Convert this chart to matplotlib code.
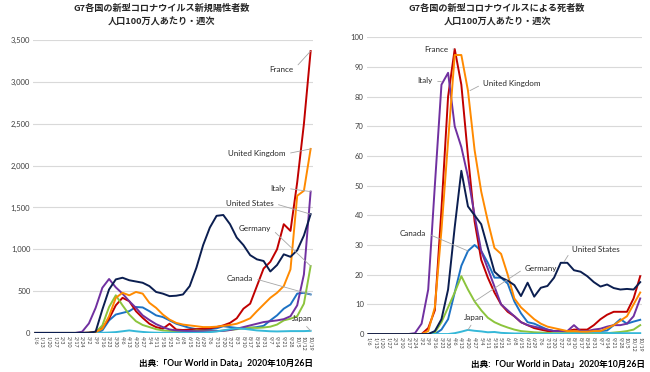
import matplotlib
matplotlib.use('Agg')
import matplotlib.pyplot as plt

plt.rcParams['font.family'] = ['Lato', 'Noto Sans CJK JP', 'DejaVu Sans']

weeks = ['1/6', '1/13', '1/20', '1/27', '2/3', '2/10', '2/17', '2/24', '3/2', '3/9',
         '3/16', '3/23', '3/30', '4/6', '4/13', '4/20', '4/27', '5/4', '5/11', '5/18',
         '5/25', '6/1', '6/8', '6/15', '6/22', '6/29', '7/6', '7/13', '7/20', '7/27',
         '8/3', '8/10', '8/17', '8/24', '8/31', '9/7', '9/14', '9/21', '9/28', '10/5',
         '10/12', '10/19']

# weekly new cases per million
canada_cases = [0, 0, 0, 0, 0, 0, 0, 0, 0, 2, 30, 150, 220, 240, 260, 310, 305, 260, 210, 190,
                150, 110, 85, 60, 45, 40, 45, 55, 80, 70, 60, 55, 60, 70, 85, 150, 210, 290, 340, 470,
                480, 460]
france_cases = [0, 0, 0, 0, 0, 0, 0, 0, 3, 15, 60, 170, 330, 420, 380, 260, 180, 110, 70, 50,
                110, 40, 35, 40, 45, 50, 55, 70, 90, 120, 175, 290, 350, 560, 770, 850, 1000, 1300, 1220, 1800,
                2500, 3370]
germany_cases = [0, 0, 0, 0, 0, 0, 0, 0, 1, 10, 90, 310, 450, 330, 220, 140, 95, 70, 45, 30,
                 25, 20, 18, 20, 30, 25, 20, 22, 28, 35, 45, 55, 65, 60, 65, 75, 100, 150, 170, 200,
                 350, 800]
italy_cases = [0, 0, 0, 0, 0, 0, 0, 15, 114, 300, 540, 645, 545, 470, 380, 300, 210, 155, 105, 70,
               42, 30, 25, 22, 20, 20, 20, 22, 25, 35, 50, 70, 90, 110, 130, 140, 150, 165, 200, 330,
               700, 1690]
japan_cases = [0, 0, 0, 0, 0, 0, 0, 0, 0, 1, 2, 5, 10, 20, 30, 20, 12, 6, 3, 2,
               2, 2, 2, 2, 3, 5, 10, 18, 30, 45, 55, 50, 40, 30, 25, 20, 18, 20, 22, 22,
               22, 25]
uk_cases = [0, 0, 0, 0, 0, 0, 0, 0, 1, 10, 50, 200, 420, 480, 450, 490, 470, 360, 300, 220,
            160, 120, 100, 90, 80, 70, 70, 75, 85, 95, 110, 140, 175, 260, 340, 420, 480, 560, 760, 1640,
            1700, 2200]
us_cases = [0, 0, 0, 0, 0, 0, 0, 1, 3, 15, 280, 520, 640, 660, 630, 615, 600, 560, 490, 470,
            440, 445, 460, 560, 780, 1050, 1260, 1400, 1410, 1300, 1140, 1050, 930, 880, 860, 735, 812, 940, 910, 988,
            1165, 1420]

# weekly deaths per million
canada_deaths = [0, 0, 0, 0, 0, 0, 0, 0, 0, 0, 0, 1.5, 5, 14, 23, 28, 30, 28, 24, 19,
                 19, 17, 11, 7, 4, 3.5, 2.5, 1.5, 1, 1, 0.8, 0.8, 0.8, 0.8, 0.8, 1, 1.2, 3, 5, 3.5,
                 4.2, 4.8]
france_deaths = [0, 0, 0, 0, 0, 0, 0, 0, 0, 2, 8, 42, 80, 96, 84, 60, 38, 25, 19, 14,
                 10, 7.5, 6, 4, 3, 2, 1.5, 1, 1, 1, 1, 1.5, 1.5, 1.5, 3, 5, 6.5, 7.5, 7.5, 7.5,
                 12, 19.5]
germany_deaths = [0, 0, 0, 0, 0, 0, 0, 0, 0, 0, 0.5, 4, 9, 14, 19.5, 15, 11, 8, 5.5, 4,
                  3, 2.2, 1.5, 1, 0.8, 0.6, 0.5, 0.4, 0.3, 0.3, 0.3, 0.3, 0.3, 0.3, 0.3, 0.3, 0.3, 0.5, 0.7, 1,
                  1.5, 3]
italy_deaths = [0, 0, 0, 0, 0, 0, 0, 0.3, 3.5, 15, 50, 84, 88, 70, 63, 53, 40, 28, 22, 16,
                10, 8, 6, 4, 3, 2.5, 2, 1.5, 1, 1, 1, 3, 1, 1, 1.5, 1.8, 2.5, 3, 3, 3.5,
                6, 12]
japan_deaths = [0, 0, 0, 0, 0, 0, 0, 0, 0, 0, 0, 0, 0, 0.3, 0.8, 1.4, 1.1, 0.9, 0.6, 0.7,
                0.4, 0.3, 0.2, 0.2, 0.1, 0.1, 0.1, 0.1, 0.1, 0.1, 0.1, 0.2, 0.4, 0.5, 0.5, 0.4, 0.4, 0.3, 0.3, 0.3,
                0.3, 0.3]
uk_deaths = [0, 0, 0, 0, 0, 0, 0, 0, 0, 1, 9, 35, 65, 94, 94, 82, 62, 48, 38, 29,
             27, 20, 12, 9, 7, 5, 3.5, 2.5, 2, 1.5, 1, 1, 0.8, 0.8, 1, 1, 2, 3, 4.5, 6,
             10, 14]
us_deaths = [0, 0, 0, 0, 0, 0, 0, 0, 0, 0, 1, 5, 15, 36, 55, 43, 40, 37, 29, 21,
             19, 18, 16.5, 12.8, 17.3, 12.6, 15.6, 16.2, 19, 24, 24, 21.5, 21, 19.5, 17.5, 16, 16.7, 15.5, 15, 15.2,
             15, 17.5]

colors = {'Canada': '#1C72C4', 'France': '#C00000', 'Germany': '#8CC43C', 'Italy': '#7030A0',
          'Japan': '#35B8D8', 'United Kingdom': '#FF8A00', 'United States': '#0B1E50'}

cases = {'Canada': canada_cases, 'France': france_cases, 'Germany': germany_cases,
         'Italy': italy_cases, 'Japan': japan_cases, 'United Kingdom': uk_cases,
         'United States': us_cases}
deaths = {'Canada': canada_deaths, 'France': france_deaths, 'Germany': germany_deaths,
          'Italy': italy_deaths, 'Japan': japan_deaths, 'United Kingdom': uk_deaths,
          'United States': us_deaths}

fig = plt.figure(figsize=(6.5, 3.72), dpi=100)
ax1 = fig.add_axes([0.051, 0.105, 0.43, 0.787])
ax2 = fig.add_axes([0.564, 0.102, 0.424, 0.798])

x = list(range(len(weeks)))


def style(ax, ymax, step, fmt):
    ax.set_xlim(-0.3, 41.3)
    ax.set_ylim(0, ymax)
    ax.set_yticks(range(0, ymax + 1, step))
    ax.set_yticklabels([fmt(v) for v in range(0, ymax + 1, step)], fontsize=5.5, color='#404040')
    ax.set_xticks(x)
    ax.set_xticklabels(weeks, rotation=270, fontsize=3.8, color='#404040')
    ax.tick_params(length=0, pad=2)
    ax.grid(axis='y', color='#D9D9D9', lw=0.8)
    ax.set_axisbelow(True)
    for s in ax.spines.values():
        s.set_visible(False)


for name, vals in cases.items():
    ax1.plot(x, vals, color=colors[name], lw=1.4, solid_joinstyle='round')
for name, vals in deaths.items():
    ax2.plot(x, vals, color=colors[name], lw=1.4, solid_joinstyle='round')

style(ax1, 3500, 500, lambda v: f'{v:,}')
style(ax2, 100, 10, lambda v: str(v))

lead = dict(arrowstyle='-', color='#A6A6A6', lw=0.6, shrinkA=1.5, shrinkB=0)


def label(ax, text, xy, xytext, ha):
    rel = {'right': (1, 0.5), 'left': (0, 0.5), 'center': (0.5, 0)}[ha]
    ax.annotate(text, xy=xy, xytext=xytext, ha=ha, va='center', fontsize=5.8,
                color='#262626', arrowprops=dict(lead, relpos=rel))


label(ax1, 'France', (41, 3370), (38.5, 3150), 'right')
label(ax1, 'United Kingdom', (41, 2200), (37.3, 2140), 'right')
label(ax1, 'Italy', (41, 1690), (37.3, 1730), 'right')
label(ax1, 'United States', (41, 1420), (35.5, 1550), 'right')
label(ax1, 'Germany', (41, 800), (35.1, 1250), 'right')
label(ax1, 'Canada', (41, 460), (32.4, 655), 'right')
label(ax1, 'Japan', (41, 25), (39.8, 170), 'center')

label(ax2, 'France', (12.9, 96), (12.0, 96), 'right')
label(ax2, 'Italy', (11, 85), (9.7, 85.3), 'right')
label(ax2, 'United Kingdom', (15.3, 82), (17.3, 84.3), 'left')
label(ax2, 'Canada', (15, 28), (8.7, 34), 'right')
label(ax2, 'Germany', (16, 11), (23.6, 22.2), 'left')
label(ax2, 'United States', (29.5, 24.3), (30.7, 28.6), 'left')
label(ax2, 'Japan', (15, 1.4), (15.9, 5.7), 'center')

title_kw = dict(ha='center', va='center', fontsize=6.6, fontweight='bold',
                family=['Noto Sans CJK JP', 'DejaVu Sans'], color='#262626')
fig.text(162 / 650, 1 - 8 / 372, 'G7各国の新型コロナウイルス新規陽性者数', **title_kw)
fig.text(162 / 650, 1 - 22 / 372, '人口100万人あたり・週次', **title_kw)
fig.text(497 / 650, 1 - 8 / 372, 'G7各国の新型コロナウイルスによる死者数', **title_kw)
fig.text(497 / 650, 1 - 22 / 372, '人口100万人あたり・週次', **title_kw)

src_kw = dict(ha='right', va='center', fontsize=6.2, fontweight='bold',
              family=['Lato', 'Noto Sans CJK JP'], color='#000000')
fig.text(313 / 650, 1 - 363 / 372, '出典:「Our World in Data」2020年10月26日', **src_kw)
fig.text(645 / 650, 1 - 364 / 372, '出典:「Our World in Data」2020年10月26日', **src_kw)

fig.savefig('out.png', dpi=100)
